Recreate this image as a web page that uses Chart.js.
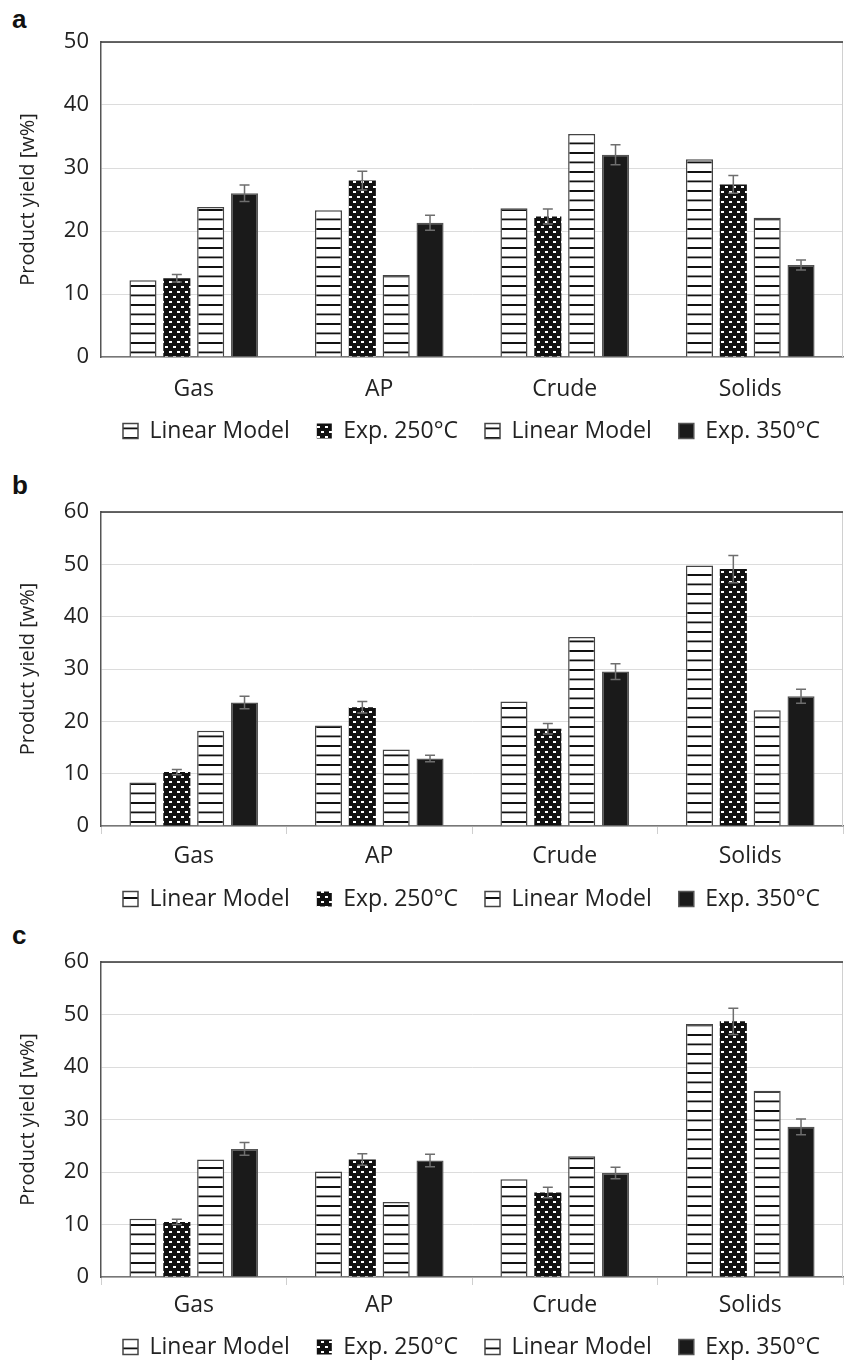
<!DOCTYPE html>
<html>
<head>
<meta charset="utf-8">
<script src="https://cdn.jsdelivr.net/npm/chart.js@4.4.1/dist/chart.umd.min.js"></script>
<style>
  body { margin: 0; background: #fff; width: 844px; height: 1366px; position: relative; overflow: hidden; }
  canvas { position: absolute; left: 0; }
  .tag { position: absolute; left: 12px; font: bold 26px "Liberation Sans", Arial, sans-serif; color: #111; }
</style>
</head>
<body>
<div class="tag" style="top:4px">a</div>
<div class="tag" style="top:470px">b</div>
<div class="tag" style="top:920px">c</div>
<canvas id="chartA" width="844" height="460" style="top:0"></canvas>
<canvas id="chartB" width="844" height="460" style="top:460px"></canvas>
<canvas id="chartC" width="844" height="446" style="top:920px"></canvas>
<script>
const categories = ['Gas', 'AP', 'Crude', 'Solids'];
const seriesNames = ['Linear Model', 'Exp. 250°C', 'Linear Model', 'Exp. 350°C'];

// panel a
const aLin250 = [12.2, 23.3, 23.6, 31.4];
const aExp250 = [12.5, 28.0, 22.3, 27.4];
const aErr250 = [0.6, 1.5, 1.2, 1.4];
const aLin350 = [23.8, 13.0, 35.4, 22.1];
const aExp350 = [26.0, 21.3, 32.1, 14.6];
const aErr350 = [1.3, 1.2, 1.6, 0.8];

// panel b
const bLin250 = [8.3, 19.2, 23.8, 49.8];
const bExp250 = [10.3, 22.7, 18.6, 49.1];
const bErr250 = [0.5, 1.1, 1.0, 2.6];
const bLin350 = [18.2, 14.6, 36.1, 22.1];
const bExp350 = [23.6, 12.9, 29.5, 24.8];
const bErr350 = [1.2, 0.6, 1.5, 1.35];

// panel c
const cLin250 = [11.1, 20.1, 18.6, 48.2];
const cExp250 = [10.5, 22.4, 16.1, 48.7];
const cErr250 = [0.5, 1.1, 1.0, 2.5];
const cLin350 = [22.4, 14.3, 23.0, 35.5];
const cExp350 = [24.4, 22.2, 19.8, 28.6];
const cErr350 = [1.2, 1.2, 1.1, 1.5];

const yTitle = 'Product yield [w%]';

// hatch fills
function stripes() {
  const c = document.createElement('canvas');
  c.width = 10; c.height = 19;
  const g = c.getContext('2d');
  g.fillStyle = '#fff'; g.fillRect(0, 0, 10, 19);
  g.fillStyle = '#111';
  g.fillRect(0, 0, 10, 2);
  g.fillRect(0, 9.5, 10, 1.8);
  return g.createPattern(c, 'repeat');
}
function bricks() {
  const c = document.createElement('canvas');
  c.width = 8; c.height = 10;
  const g = c.getContext('2d');
  g.fillStyle = '#111'; g.fillRect(0, 0, 8, 10);
  g.fillStyle = '#fff';
  g.fillRect(1, 1, 3, 2);
  g.fillRect(5, 6, 3, 2);
  return g.createPattern(c, 'repeat');
}

const errorBars = {
  id: 'errorBars',
  afterDatasetsDraw(chart) {
    const ctx = chart.ctx, y = chart.scales.y;
    ctx.save();
    ctx.strokeStyle = '#6e6e6e';
    ctx.lineWidth = 1.5;
    chart.data.datasets.forEach((ds, i) => {
      if (!ds.errors) return;
      chart.getDatasetMeta(i).data.forEach((bar, j) => {
        const v = ds.data[j], e = ds.errors[j];
        const y1 = y.getPixelForValue(v + e), y2 = y.getPixelForValue(v - e);
        ctx.beginPath();
        ctx.moveTo(bar.x, y1); ctx.lineTo(bar.x, y2);
        ctx.moveTo(bar.x - 5, y1); ctx.lineTo(bar.x + 5, y1);
        ctx.moveTo(bar.x - 5, y2); ctx.lineTo(bar.x + 5, y2);
        ctx.stroke();
      });
    });
    ctx.restore();
  }
};

const frame = {
  id: 'frame',
  beforeDatasetsDraw(chart) {
    const {ctx, chartArea: a} = chart;
    ctx.save();
    ctx.lineWidth = 1;
    ctx.strokeStyle = '#d0d0d0';
    ctx.beginPath(); ctx.moveTo(a.right - 0.5, a.top); ctx.lineTo(a.right - 0.5, a.bottom); ctx.stroke();
    ctx.lineWidth = 1.5;
    ctx.strokeStyle = '#333';
    ctx.beginPath(); ctx.moveTo(a.left, a.top); ctx.lineTo(a.right, a.top); ctx.stroke();
    ctx.restore();
  }
};

// pull the legend up under the labels and centre it on the plot area
const nudge = {
  id: 'nudge',
  afterLayout(chart, args, opts) {
    const lg = chart.legend;
    lg.top += opts.dy; lg.bottom += opts.dy;
    lg.left += opts.dx; lg.right += opts.dx;
  }
};

function makePanel(id, lin250, exp250, err250, lin350, exp350, err350, yMax, ticks, top, bottomPad, xHeight, labelPad, dy) {
  const stripe = stripes();
  new Chart(document.getElementById(id), {
    type: 'bar',
    data: {
      labels: categories,
      datasets: [
        { label: seriesNames[0], data: lin250, backgroundColor: stripe, borderColor: '#444', borderWidth: 1.5 },
        { label: seriesNames[1], data: exp250, errors: err250, backgroundColor: bricks(), borderColor: '#222', borderWidth: 0 },
        { label: seriesNames[2], data: lin350, backgroundColor: stripe, borderColor: '#444', borderWidth: 1.5 },
        { label: seriesNames[3], data: exp350, errors: err350, backgroundColor: '#1a1a1a', borderColor: '#555', borderWidth: 1.5 }
      ]
    },
    options: {
      responsive: false,
      animation: false,
      categoryPercentage: 0.73,
      barPercentage: 0.8,
      layout: { padding: { top: top, right: 1, left: 0, bottom: bottomPad } },
      plugins: {
        tooltip: { enabled: false },
        nudge: { dx: 50, dy: dy },
        legend: {
          position: 'bottom',
          labels: {
            font: { family: 'Open Sans', size: 23 },
            color: '#222',
            boxWidth: 15,
            boxHeight: 15,
            padding: 27
          }
        }
      },
      scales: {
        x: {
          afterFit(s) { s.height = xHeight; },
          grid: { display: ticks, drawOnChartArea: false, drawTicks: ticks, tickLength: 8, color: '#cfcfcf' },
          border: { display: true, color: '#777', width: 1.5 },
          ticks: { font: { family: 'Open Sans', size: 23 }, color: '#222', padding: labelPad }
        },
        y: {
          min: 0, max: yMax,
          afterFit(s) { s.width = 101; },
          grid: { color: '#dcdcdc', drawTicks: false },
          border: { display: true, color: '#555', width: 1.5 },
          ticks: { stepSize: 10, font: { family: 'Open Sans', size: 22 }, color: '#222', padding: 12 },
          title: { display: true, text: yTitle, font: { family: 'Open Sans', size: 20 }, color: '#222', padding: { top: 16, bottom: 0 } }
        }
      }
    },
    plugins: [frame, errorBars, nudge]
  });
}

makePanel('chartA', aLin250, aExp250, aErr250, aLin350, aExp350, aErr350, 50, false, 42, -5, 48, 19, -12.5);
makePanel('chartB', bLin250, bExp250, bErr250, bLin350, bExp350, bErr350, 60, true, 52, -12, 46, 9, -11.5);
makePanel('chartC', cLin250, cExp250, cErr250, cLin350, cExp350, cErr350, 60, true, 42, -15, 44, 7, -12.5);
</script>
</body>
</html>
